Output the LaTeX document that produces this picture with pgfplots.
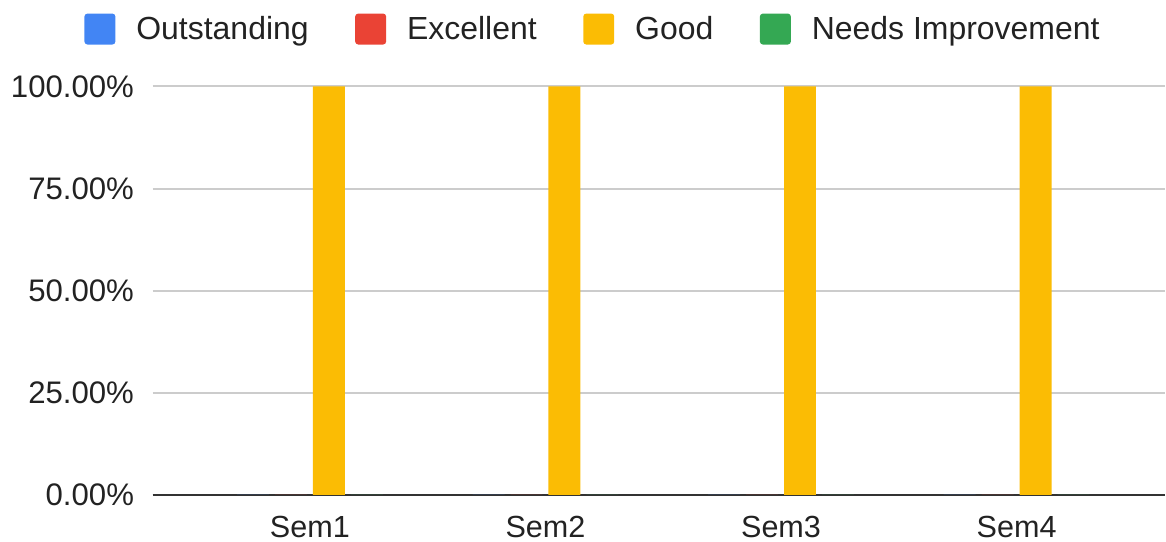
\documentclass[border=0pt]{standalone}
\usepackage{fontspec}
\setmainfont{Liberation Sans}
\usepackage{pgfplots}
\pgfplotsset{compat=1.18}
\definecolor{cblue}{HTML}{4285F4}
\definecolor{cred}{HTML}{EA4335}
\definecolor{cyellow}{HTML}{FBBC04}
\definecolor{cgreen}{HTML}{34A853}
\definecolor{cgrid}{HTML}{CCCCCC}
\definecolor{ctext}{HTML}{222222}
\pgfplotsset{
  sqlegend/.style={legend image code/.code={\fill[##1,draw=none,rounded corners=1.5pt] (0pt,-7.75pt) rectangle (15.5pt,7.75pt);}}
}
\begin{document}
\begin{tikzpicture}
\begin{axis}[
  scale only axis, width=507pt, height=204.5pt,
  xmin=-0.668, xmax=3.630, ymin=0, ymax=100,
  ybar=3pt, bar width=16pt,
  axis line style={draw=none},
  tick style={draw=none},
  ytick={0,25,50,75,100},
  yticklabels={0.00\%,25.00\%,50.00\%,75.00\%,100.00\%},
  xtick={0,1,2,3},
  xticklabels={Sem1,Sem2,Sem3,Sem4},
  ymajorgrids, grid style={cgrid, line width=1pt},
  extra y ticks={0}, extra y tick labels={},
  extra y tick style={grid style={draw=black!80, line width=1pt}},
  yticklabel style={font=\fontsize{15.6}{18}\selectfont, text=ctext, inner xsep=5.5pt, xshift=-3.6pt},
  xticklabel style={font=\fontsize{15.3}{18}\selectfont, text=ctext, inner ysep=2pt, yshift=-4.3pt},
  legend style={at={(0.436,1.1405)}, anchor=center, draw=none, fill=none,
    inner ysep=6pt,
    legend columns=4, font=\fontsize{16}{19}\selectfont, text=ctext,
    /tikz/every odd column/.append style={column sep=8.5pt},
    /tikz/every even column/.append style={column sep=21.3pt}},
]
\addplot[sqlegend, fill=cblue, draw=none] coordinates {(0,0) (1,0) (2,0) (3,0)};
\addlegendentry{Outstanding}
\addplot[sqlegend, fill=cred, draw=none] coordinates {(0,0) (1,0) (2,0) (3,0)};
\addlegendentry{Excellent}
\addplot[sqlegend, fill=cyellow, draw=none] coordinates {(0,100) (1,100) (2,100) (3,100)};
\addlegendentry{Good}
\addplot[sqlegend, fill=cgreen, draw=none] coordinates {(0,0) (1,0) (2,0) (3,0)};
\addlegendentry{Needs Improvement}
\end{axis}
\end{tikzpicture}
\end{document}
